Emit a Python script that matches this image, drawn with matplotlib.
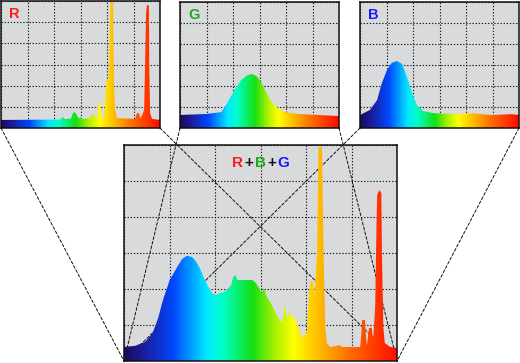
import numpy as np
import matplotlib
matplotlib.use("Agg")
import matplotlib.pyplot as plt
from matplotlib.colors import LinearSegmentedColormap
from matplotlib.patches import Polygon, ConnectionPatch
from matplotlib.offsetbox import TextArea, HPacker, AnchoredOffsetbox

# ---------------- data (wavelength nm, relative intensity in grid units) ----------------
r_wl = [380, 528, 536, 541, 556, 561, 566, 576, 581, 586, 604, 609, 614, 619, 622,
        626, 629, 634, 640, 644, 647, 651, 655, 657, 662, 664, 667, 672, 717, 722,
        727, 731, 735, 740, 745, 747, 752, 753, 755, 760, 780]
r_val = [0.38, 0.40, 0.52, 0.42, 0.45, 0.71, 0.75, 0.45, 0.52, 0.43, 0.45, 0.61, 0.66, 0.47, 0.55,
         1.23, 1.23, 0.47, 0.52, 1.94, 2.36, 2.25, 5.95, 5.95, 5.95, 2.10, 0.85, 0.47, 0.43, 0.71,
         0.71, 0.45, 0.61, 0.85, 5.43, 5.80, 5.80, 2.90, 0.71, 0.43, 0.38]

g_wl = [380, 448, 484, 499, 517, 534, 550, 562, 575, 588, 600, 613, 626, 643, 676, 780]
g_val = [0.62, 0.67, 0.76, 1.19, 1.81, 2.29, 2.52, 2.57, 2.43, 2.05, 1.57, 1.19, 0.95, 0.76, 0.67, 0.57]

b_wl = [380, 405, 423, 435, 448, 460, 473, 486, 498, 511, 523, 538, 564, 606, 640, 650, 657,
        665, 707, 740, 760, 780]
b_val = [0.62, 0.86, 1.33, 2.14, 2.76, 3.10, 3.19, 3.05, 2.43, 1.67, 1.10, 0.81, 0.71, 0.67, 0.67,
         0.72, 0.67, 0.70, 0.62, 0.64, 0.66, 0.62]

m_wl = [380, 396, 411, 422, 430, 437, 447, 458, 465, 472, 480, 486, 491, 497, 503, 509, 515,
        521, 527, 532, 537, 540, 543, 546, 553, 560, 568, 573, 578, 582, 585, 588, 594, 600,
        606, 612, 616, 619, 622, 626, 629, 634, 638, 642, 648, 651, 654, 657, 659, 661, 663,
        665, 670, 672, 673, 675, 677, 682, 696, 699, 726, 727, 729, 733, 735, 736, 739, 743,
        745, 748, 750, 751, 754, 757, 758, 760, 762, 770, 780]
m_val = [0.39, 0.42, 0.53, 0.78, 1.19, 1.69, 2.25, 2.61, 2.83, 2.92, 2.89, 2.75, 2.58, 2.31, 2.08,
         1.89, 1.83, 1.89, 1.92, 2.00, 2.11, 2.33, 2.39, 2.25, 2.25, 2.25, 2.25, 2.17, 2.03, 1.89,
         2.03, 1.83, 1.64, 1.42, 1.19, 1.06, 1.56, 1.19, 1.36, 1.19, 1.25, 1.00, 0.78, 0.64, 0.81,
         1.89, 2.25, 2.17, 1.78, 2.44, 3.08, 5.94, 5.94, 3.36, 2.44, 0.94, 0.50, 0.39, 0.44, 0.39,
         0.39, 0.58, 1.14, 1.14, 0.58, 0.44, 0.92, 0.92, 0.58, 1.50, 3.83, 4.61, 4.75, 4.67, 2.89,
         0.94, 0.50, 0.39, 0.36]

panel_titles = ["R", "G", "B"]
title_colors = ["#ff1a1a", "#1aaa1a", "#1a1aff"]
main_title_parts = ["R", "+", "B", "+", "G"]
main_title_colors = ["#ff1a1a", "#111111", "#1aaa1a", "#111111", "#1a1aff"]

# ---------------- styling ----------------
W, H = 520, 363
fig = plt.figure(figsize=(W / 100, H / 100), dpi=100)
fig.patch.set_facecolor("white")

cmap = LinearSegmentedColormap.from_list("spec", [
    (0.00, "#1a0a5e"), (0.07, "#1c1c9c"), (0.18, "#0048ff"), (0.30, "#00e8ff"),
    (0.36, "#00ffc8"), (0.47, "#14e014"), (0.55, "#a8f000"), (0.62, "#ffff00"),
    (0.70, "#ffc400"), (0.82, "#ff7000"), (1.00, "#ff0a00")])

BG = "#d9dadb"
XMIN, XMAX, YMAX = 380, 780, 6


def px_rect(x0, y0, x1, y1):
    return [x0 / W, 1 - y1 / H, (x1 - x0) / W, (y1 - y0) / H]


def style_axes(ax, face):
    ax.set_xlim(XMIN, XMAX)
    ax.set_ylim(0, YMAX)
    ax.set_facecolor(face)
    ax.set_xticks(np.linspace(XMIN, XMAX, 7))
    ax.set_yticks(np.arange(0, YMAX + 1))
    ax.tick_params(length=0, labelbottom=False, labelleft=False)
    ax.grid(True, color="#1a1a1a", linestyle=(0, (1.2, 1.6)), linewidth=0.8)
    ax.set_axisbelow(True)
    for s in ax.spines.values():
        s.set_linewidth(1.1)
        s.set_color("#111111")


def spectrum(ax, wl, val):
    verts = [(wl[0], 0)] + list(zip(wl, val)) + [(wl[-1], 0)]
    poly = Polygon(verts, closed=True, facecolor="none", edgecolor="none")
    ax.add_patch(poly)
    grad = np.linspace(0, 1, 512).reshape(1, -1)
    im = ax.imshow(grad, extent=[XMIN, XMAX, 0, YMAX], aspect="auto", cmap=cmap,
                   origin="lower", zorder=2, interpolation="bilinear")
    im.set_clip_path(poly)
    ax.set_xlim(XMIN, XMAX)
    ax.set_ylim(0, YMAX)


small_rects = [px_rect(1, 1, 160, 128), px_rect(180, 2, 339, 128), px_rect(360, 2, 519, 128)]
small_data = [(r_wl, r_val), (g_wl, g_val), (b_wl, b_val)]
small_axes = []
for rect, (wl, val), t, c in zip(small_rects, small_data, panel_titles, title_colors):
    ax = fig.add_axes(rect, zorder=3)
    style_axes(ax, BG)
    spectrum(ax, wl, val)
    ax.text(0.05, 0.955, t, transform=ax.transAxes, ha="left", va="top", color=c,
            fontsize=10.5, fontweight="bold", family="Liberation Sans", zorder=5)
    small_axes.append(ax)

main_rect = px_rect(124, 145, 397, 361)
bg_ax = fig.add_axes(main_rect, zorder=0)
bg_ax.set_facecolor(BG)
bg_ax.set_xticks([]); bg_ax.set_yticks([])
for s in bg_ax.spines.values():
    s.set_visible(False)

main = fig.add_axes(main_rect, zorder=2)
style_axes(main, "none")
spectrum(main, m_wl, m_val)

boxes = [TextArea(p, textprops=dict(color=c, fontsize=11, fontweight="bold",
                                     family="Liberation Sans"))
         for p, c in zip(main_title_parts, main_title_colors)]
pack = HPacker(children=boxes, align="baseline", pad=0, sep=1)
anch = AnchoredOffsetbox(loc="center", child=pack, frameon=False,
                         bbox_to_anchor=(0.50, 0.915), bbox_transform=main.transAxes,
                         borderpad=0, pad=0)
main.add_artist(anch)

# connector lines from each small panel's bottom corners to the main panel's bottom corners
for ax in small_axes:
    for xa, xb in [(0, 0), (1, 1)]:
        con = ConnectionPatch(xyA=(xa, 0), coordsA=ax.transAxes,
                              xyB=(xb, 0), coordsB=main.transAxes,
                              color="#111111", linewidth=0.7, linestyle=(0, (3, 2)))
        con.set_zorder(1)
        fig.add_artist(con)

fig.savefig("out.png", dpi=100)
